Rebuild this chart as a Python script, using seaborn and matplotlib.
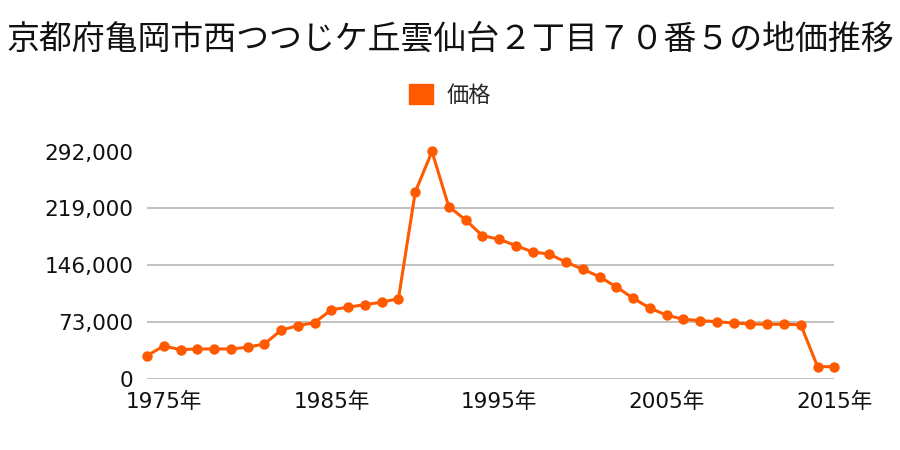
import matplotlib
matplotlib.use("Agg")
import matplotlib.pyplot as plt
import seaborn as sns
import pandas as pd
from matplotlib.patches import Patch

title = "京都府亀岡市西つつじケ丘雲仙台２丁目７０番５の地価推移"
series_name = "価格"
years = list(range(1974, 2016))
prices = [30300, 42700, 38000, 38900, 38900, 38900, 41100, 45300, 62900, 68800,
          72600, 89300, 92400, 95700, 98800, 103400, 239900, 292000, 221400, 204400,
          184200, 179600, 171400, 163300, 160400, 150100, 141100, 131300, 118400, 103900,
          91300, 82100, 77000, 75200, 73900, 72200, 70900, 70500, 70500, 70000,
          16200, 16200]
y_ticks = [0, 73000, 146000, 219000, 292000]
x_ticks = [1975, 1985, 1995, 2005, 2015]
x_tick_labels = [f"{y}年" for y in x_ticks]

df = pd.DataFrame({"年": years, series_name: prices})

sns.set_theme(style="white")
plt.rcParams["font.family"] = ["Noto Sans CJK JP", "DejaVu Sans"]
num_family = ["DejaVu Sans", "Noto Sans CJK JP"]

color = "#ff5a00"
fig = plt.figure(figsize=(9, 4.5), dpi=100)
ax = fig.add_axes([147/900, 1 - 379.3/450, (834.3 - 147)/900, (379.3 - 151.5)/450])

sns.lineplot(data=df, x="年", y=series_name, ax=ax, color=color, linewidth=2.2,
             marker="o", markersize=7.5, markeredgewidth=0, clip_on=False, zorder=3)

ax.set_xlim(1974, 2015)
ax.set_ylim(0, 292000)
ax.set_yticks(y_ticks)
ax.set_yticklabels([f"{v:,}" for v in y_ticks], fontsize=15.5, color="#111111", family=num_family)
ax.set_xticks(x_ticks)
ax.set_xticklabels(x_tick_labels, fontsize=15.5, color="#111111", family=num_family)
ax.tick_params(axis="y", length=0, pad=10)
ax.tick_params(axis="x", length=0, pad=9)
ax.set_xlabel("")
ax.set_ylabel("")
ax.grid(axis="y", color="#b0b0b0", linewidth=1.1)
ax.grid(axis="x", visible=False)
for s in ax.spines.values():
    s.set_visible(False)

fig.text(0.5, 1 - 40/450, title, ha="center", va="center", fontsize=23.7, color="#111111")

handles = [Patch(facecolor=color, edgecolor=color, label=series_name)]
fig.legend(handles=handles, loc="center", bbox_to_anchor=(0.5, 1 - 95/450), frameon=False,
           fontsize=16, handlelength=1.05, handleheight=1.05, handletextpad=0.6)

fig.savefig("out.png", dpi=100)
